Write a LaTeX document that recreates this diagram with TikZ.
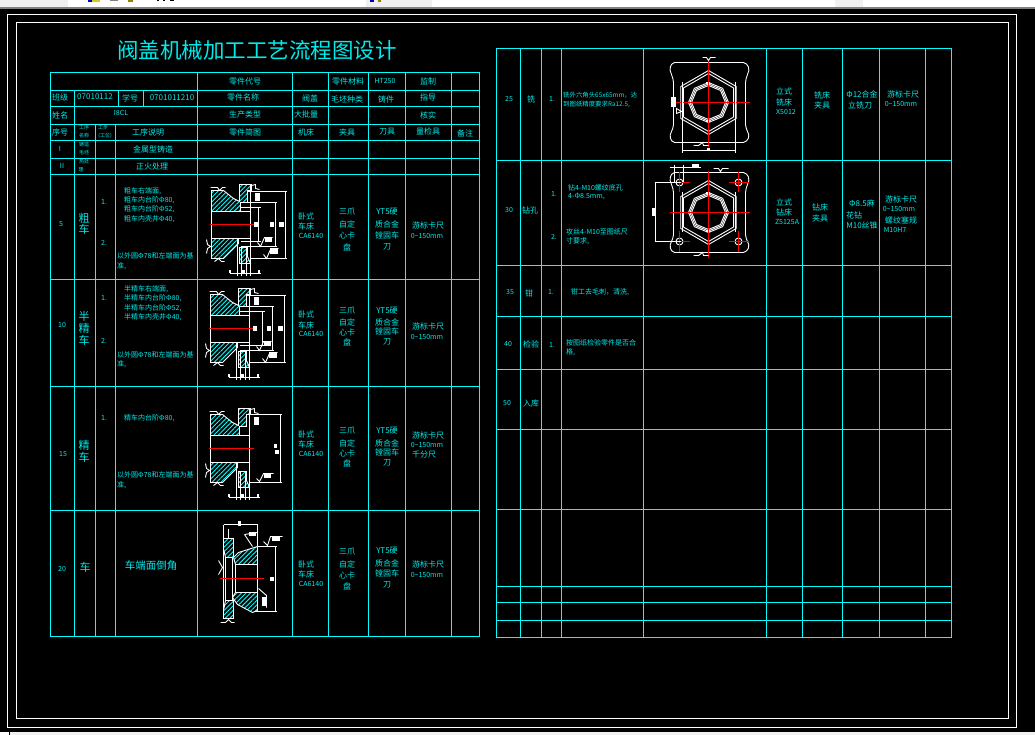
\documentclass[tikz,border=0pt]{standalone}
\usepackage{fontspec}
\setmainfont{Noto Sans CJK SC}
\usetikzlibrary{patterns.meta}
\definecolor{grid}{rgb}{0, 1, 1}
\definecolor{label}{rgb}{0, 0.92, 0.92}
\definecolor{axis}{rgb}{1, 0, 0}
\definecolor{chrome}{rgb}{0.94, 0.94, 0.94}
\tikzset{
  pixel/.style={xshift=0.5pt, yshift=-0.5pt},
  gridline/.style={pixel, draw=grid, line width=1pt},
  frameline/.style={pixel, draw=white, line width=1pt},
  partline/.style={pixel, draw=white, line width=0.9pt},
  hatched/.style={partline, pattern={Lines[angle=45, distance=3.2pt, line width=0.9pt]}, pattern color=grid},
  centerline/.style={pixel, draw=axis, line width=1pt},
  txt/.style={text=label, inner sep=0pt, font=\fontsize{7}{8}\selectfont},
  narrow/.style={txt, font=\fontsize{6.4}{8}\selectfont},
  head/.style={txt, font=\fontsize{8}{9}\selectfont},
  big/.style={txt, font=\fontsize{11}{12}\selectfont},
  tiny/.style={txt, font=\fontsize{5}{6}\selectfont},
  left/.style={anchor=west}
}
% flange section, hub on the left
\newcommand{\flangebody}[1]{
\begin{scope}[shift={#1}]
\draw [hatched] (211, 190) -- (223, 190) -- (233, 198) -- (239, 201) -- (239, 184) -- (251, 184) -- (251, 190) -- (247, 190) -- (247, 202) -- (240, 202) -- (240, 211) -- (211, 211) -- cycle;
\draw [hatched] (211, 238) -- (238, 238) -- (238, 243) -- (223, 258) -- (211, 258) -- cycle;
\draw [hatched] (239, 247) -- (247, 247) -- (247, 256) -- (250, 263) -- (239, 263) -- cycle;
\draw [partline] (211, 211) -- (211, 238);
\draw [partline] (211, 211) -- (250, 211);
\draw [partline] (211, 238) -- (250, 238);
\draw [partline] (250, 184) -- (250, 263);
\draw [partline] (210, 187) -- (217, 187) -- (219, 190) -- (222, 187) -- (225, 187);
\draw [partline] (214, 261) -- (218, 258) -- (221, 261) -- (224, 261);
\draw [partline] (206, 239) -- (207, 244) -- (210, 246) -- (207, 248) -- (206, 253);
\draw [partline] (251, 185) -- (255, 184) -- (255, 188) -- (259, 189);
\draw [partline] (237, 238) -- (237, 275);
\draw [partline] (241, 247) -- (241, 275);
\draw [partline] (246, 247) -- (246, 275);
\draw [partline] (250, 263) -- (250, 275);
\draw [partline] (229, 273) -- (260, 273);
\fill [white] (229, 270) rectangle +(2, 3);
\fill [white] (258, 270) rectangle +(2, 3);
\fill [white] (242, 270) rectangle +(3, 3);
\fill [white] (255, 193) rectangle +(5, 8);
\draw [centerline] (209, 224) -- (254, 224);
\end{scope}
}
\newcommand{\flangedims}[3]{
\begin{scope}[shift={#1}]
\draw [partline] (247, 191) -- (286, 191);
\draw [partline] (250, 258) -- (286, 258);
\draw [partline] (285, 191) -- (285, 258);
\draw [partline] (240, 202) -- (#2 + 1, 202);
\draw [partline] (240, 246) -- (#2 + 1, 246);
\draw [partline] (#2, 202) -- (#2, 246);
\draw [partline] (240, 207) -- (#3 + 2, 207);
\draw [partline] (240, 241) -- (#3 + 2, 241);
\draw [partline] (#3, 207) -- (#3, 241);
\fill [white] (254, 222) rectangle +(4, 5);
\fill [white] (#2 - 5, 222) rectangle +(4, 5);
\fill [white] (279, 222) rectangle +(5, 5);
\draw [partline] (257, 242) -- (260, 246) -- (264, 237) -- (272, 237);
\fill [white] (265, 238) rectangle +(7, 4);
\draw [partline] (263, 254) -- (266, 258) -- (270, 249) -- (278, 248);
\fill [white] (270, 248) rectangle +(8, 6);
\end{scope}
}
% hexagon head seen from the end, centre at (0, 0)
\newcommand{\hexview}[1]{
\begin{scope}[shift={#1}]
\draw [partline, rounded corners=2pt] (-36, -40) -- (-39, -34) -- (-35, -22) -- (-35, 24) -- (-39, 34) -- (-36, 40) -- (37, 40) -- (41, 34) -- (37, 24) -- (37, -22) -- (41, -34) -- (37, -40) -- cycle;
\draw [partline] (90:32) -- (30:32) -- (-30:32) -- (-90:32) -- (-150:32) -- (150:32) -- cycle;
\draw [partline] (90:29) -- (30:29) -- (-30:29) -- (-90:29) -- (-150:29) -- (150:29) -- cycle;
\draw [partline] (0:20) -- (45:20) -- (90:20) -- (135:20) -- (180:20) -- (225:20) -- (270:20) -- (315:20) -- cycle;
\draw [partline] (0:18.5) -- (45:18.5) -- (90:18.5) -- (135:18.5) -- (180:18.5) -- (225:18.5) -- (270:18.5) -- (315:18.5) -- cycle;
\draw [partline] (0:17) -- (45:17) -- (90:17) -- (135:17) -- (180:17) -- (225:17) -- (270:17) -- (315:17) -- cycle;
\fill [white] (-2, -20) rectangle +(4, 2);
\fill [white] (-2, 18) rectangle +(4, 2);
\draw [partline] (-26, -20) -- (-26, 20);
\draw [partline] (27, -20) -- (27, 20);
\end{scope}
}

\begin{document}
\begin{tikzpicture}[x=1pt, y=-1pt]
\useasboundingbox (0, 0) rectangle (1035, 735);
\fill [black] (0, 0) rectangle (1035, 735);
% window bars
\fill [chrome] (0, 0) rectangle (1035, 7);
\fill [gray] (0, 7) rectangle (1035, 9.5);
\fill [white] (68, 0) rectangle (366, 7);
\fill [white] (432, 0) rectangle (835, 7);
\fill [white] (863, 0) rectangle (1035, 7);
\fill [blue!70!black] (88, 0) rectangle +(4, 2);
\fill [yellow!80!black] (92, 0) rectangle +(8, 2);
\fill [gray] (110, 0) rectangle +(8, 1.5);
\fill [olive] (128, 0) rectangle +(5, 2);
\fill [black] (157, 0) rectangle +(2, 1);
\fill [black] (163, 0) rectangle +(2, 1);
\fill [black] (170, 0) rectangle +(4, 1);
\fill [blue!70!black] (370, 0) rectangle +(4, 2);
\fill [olive] (378, 0) rectangle +(3, 2);
\fill [chrome] (0, 732) rectangle (1035, 735);
\fill [white] (0, 732) rectangle (9, 735);
\draw [black] (9, 732) -- (9, 735);
% drawing frames
\draw [frameline] (7, 14) rectangle (1016, 727);
\draw [frameline] (16, 22) rectangle (1008, 718);
\node [txt, font=\fontsize{21.5}{23}\selectfont] (title) at (257, 50) {阀盖机械加工工艺流程图设计};
% left table
\draw [gridline] (50, 72) rectangle (479, 636);
\draw [gridline] (50, 90) -- (479, 90);
\draw [gridline] (50, 106) -- (479, 106);
\draw [gridline] (50, 124) -- (479, 124);
\draw [gridline] (50, 140) -- (479, 140);
\draw [gridline] (50, 158) -- (479, 158);
\draw [gridline] (50, 174) -- (479, 174);
\draw [gridline] (50, 279) -- (479, 279);
\draw [gridline] (50, 386) -- (479, 386);
\draw [gridline] (50, 510) -- (479, 510);
\draw [gridline] (74, 90) -- (74, 636);
\draw [gridline] (95, 124) -- (95, 636);
\draw [gridline] (115, 124) -- (115, 636);
\draw [gridline] (118, 90) -- (118, 106);
\draw [gridline] (143, 90) -- (143, 106);
\draw [gridline] (197, 72) -- (197, 636);
\draw [gridline] (292, 72) -- (292, 636);
\draw [gridline] (328, 72) -- (328, 636);
\draw [gridline] (368, 72) -- (368, 636);
\draw [gridline] (405, 72) -- (405, 636);
\draw [gridline] (451, 72) -- (451, 636);
% left table, heading
\node [head] (partcode) at (245, 82) {零件代号};
\node [head] (material) at (348, 81) {零件材料};
\node [txt] (ht) at (385, 81) {HT250};
\node [head] (monitor) at (428, 81) {监制};
\node [head] (class) at (60, 97) {班级};
\node [head] (classno) at (95, 97) {07010112};
\node [head] (stu) at (130, 98) {学号};
\node [head] (stuno) at (172, 98) {0701011210};
\node [head] (partname) at (243, 97) {零件名称};
\node [head] (valve) at (310, 98) {阀盖};
\node [head] (blank) at (347, 99) {毛坯种类};
\node [head] (cast) at (386, 99) {铸件};
\node [head] (guide) at (428, 97) {指导};
\node [head] (name) at (60, 115) {姓名};
\node [txt] (who) at (121, 113) {I8CL};
\node [head] (prodtype) at (245, 114) {生产类型};
\node [head] (mass) at (306, 114) {大批量};
\node [head] (check) at (428, 115) {核实};
\node [head] (seq) at (60, 132) {序号};
\node [tiny] (opa) at (84, 128) {工序};
\node [tiny] (opb) at (84, 136) {名称};
\node [tiny] (stpa) at (103, 128) {工步};
\node [tiny] (stpb) at (105, 136) {(工位)};
\node [head] (opdesc) at (148, 132) {工序说明};
\node [head] (sketch) at (245, 132) {零件简图};
\node [head] (lathe) at (306, 132) {机床};
\node [head] (fix) at (347, 132) {夹具};
\node [head] (tool) at (387, 132) {刀具};
\node [head] (gauge) at (428, 131) {量检具};
\node [head] (note) at (465, 133) {备注};
\node [txt] (ri) at (60, 149) {I};
\node [tiny] (castta) at (84, 145) {铸造};
\node [tiny] (casttb) at (84, 153) {毛坯};
\node [head] (castd) at (153, 149) {金属型铸造};
\node [txt] (rii) at (62, 166) {II};
\node [tiny] (heata) at (84, 162) {热处};
\node [tiny] (heatb) at (81, 170) {理};
\node [head] (heatd) at (152, 166) {正火处理};
% operation 5
\node [txt] (a5) at (61, 224) {5};
\node [big] (a5na) at (84, 218) {粗};
\node [big] (a5nb) at (84, 229) {车};
\node [txt] (a5s1) at (104, 202) {1.};
\node [txt] (a5s2) at (104, 243) {2.};
\node [txt, left] (a5t1) at (124, 191) {粗车右端面,};
\node [txt, left] (a5t2) at (124, 200) {粗车内台阶Φ80,};
\node [txt, left] (a5t3) at (124, 209.5) {粗车内台阶Φ52,};
\node [txt, left] (a5t4) at (124, 219) {粗车内壳井Φ40,};
\node [txt, left] (a5t5) at (117, 256) {以外圆Φ78和左端面为基};
\node [txt, left] (a5t6) at (117, 266) {准,};
\node [head] (a5ma) at (306, 216) {卧式};
\node [head] (a5mb) at (306, 226) {车床};
\node [txt] (a5mc) at (311, 236) {CA6140};
\node [head] (a5fa) at (347, 212) {三爪};
\node [head] (a5fb) at (347, 224) {自定};
\node [head] (a5fc) at (347, 235) {心卡};
\node [head] (a5fd) at (347, 247) {盘};
\node [head] (a5ka) at (387, 212) {YT5硬};
\node [head] (a5kb) at (387, 224) {质合金};
\node [head] (a5kc) at (387, 235) {镗固车};
\node [head] (a5kd) at (387, 247) {刀};
\node [head] (a5ga) at (428, 225) {游标卡尺};
\node [txt] (a5gb) at (427, 236) {0\textasciitilde150mm};
\flangebody{(0, 0)}
\flangedims{(0, 0)}{275}{258}
% operation 10
\node [txt] (a10) at (62, 325) {10};
\node [big] (a10na) at (84, 316) {半};
\node [big] (a10nb) at (84, 328) {精};
\node [big] (a10nc) at (84, 340) {车};
\node [txt] (a10s1) at (104, 298) {1.};
\node [txt] (a10s2) at (104, 341) {2.};
\node [txt, left] (a10t1) at (124, 289) {半精车右端面,};
\node [txt, left] (a10t2) at (124, 298) {半精车内台阶Φ80,};
\node [txt, left] (a10t3) at (124, 308) {半精车内台阶Φ52,};
\node [txt, left] (a10t4) at (124, 317) {半精车内壳井Φ40,};
\node [txt, left] (a10t5) at (117, 355) {以外圆Φ78和左端面为基};
\node [txt, left] (a10t6) at (117, 364) {准,};
\node [head] (a10ma) at (306, 314) {卧式};
\node [head] (a10mb) at (306, 325) {车床};
\node [txt] (a10mc) at (311, 334) {CA6140};
\node [head] (a10fa) at (347, 311) {三爪};
\node [head] (a10fb) at (347, 322) {自定};
\node [head] (a10fc) at (347, 332) {心卡};
\node [head] (a10fd) at (347, 342) {盘};
\node [head] (a10ka) at (387, 311) {YT5硬};
\node [head] (a10kb) at (387, 322) {质合金};
\node [head] (a10kc) at (387, 331) {镗固车};
\node [head] (a10kd) at (387, 342) {刀};
\node [head] (a10ga) at (428, 326) {游标卡尺};
\node [txt] (a10gb) at (427, 337) {0\textasciitilde150mm};
\flangebody{(-1, 104)}
\flangedims{(-1, 104)}{273}{263}
% operation 15
\node [txt] (a15) at (63, 454) {15};
\node [big] (a15na) at (84, 445) {精};
\node [big] (a15nb) at (84, 457) {车};
\node [txt] (a15s1) at (104, 418) {1.};
\node [txt, left] (a15t1) at (124, 418) {精车内台阶Φ80,};
\node [txt, left] (a15t5) at (117, 475) {以外圆Φ78和左端面为基};
\node [txt, left] (a15t6) at (117, 485) {准,};
\node [head] (a15ma) at (306, 434) {卧式};
\node [head] (a15mb) at (306, 444) {车床};
\node [txt] (a15mc) at (311, 454) {CA6140};
\node [head] (a15fa) at (347, 431) {三爪};
\node [head] (a15fb) at (347, 443) {自定};
\node [head] (a15fc) at (347, 453) {心卡};
\node [head] (a15fd) at (347, 463) {盘};
\node [head] (a15ka) at (387, 431) {YT5硬};
\node [head] (a15kb) at (387, 443) {质合金};
\node [head] (a15kc) at (387, 452) {镗固车};
\node [head] (a15kd) at (387, 463) {刀};
\node [head] (a15ga) at (428, 435) {游标卡尺};
\node [txt] (a15gb) at (427, 445) {0\textasciitilde150mm};
\node [head] (a15gc) at (424, 455) {千分尺};
\flangebody{(-1, 224)}
\draw [partline] (248, 414) -- (281, 414);
\draw [partline] (249, 482) -- (281, 482);
\draw [partline] (280, 414) -- (280, 482);
\fill [white] (274, 444) rectangle +(3, 4);
\fill [white] (275, 450) rectangle +(4, 4);
\draw [partline] (256, 478) -- (259, 481) -- (263, 473) -- (273, 473);
\fill [white] (264, 474) rectangle +(7, 4);
% operation 20
\node [txt] (a20) at (62, 569) {20};
\node [big] (a20n) at (85, 567) {车};
\node [txt, font=\fontsize{10.5}{12}\selectfont] (a20d) at (151, 566) {车端面倒角};
\node [head] (a20ma) at (306, 564) {卧式};
\node [head] (a20mb) at (306, 574) {车床};
\node [txt] (a20mc) at (311, 584) {CA6140};
\node [head] (a20fa) at (347, 552) {三爪};
\node [head] (a20fb) at (347, 564) {自定};
\node [head] (a20fc) at (347, 575) {心卡};
\node [head] (a20fd) at (347, 586) {盘};
\node [head] (a20ka) at (387, 551) {YT5硬};
\node [head] (a20kb) at (387, 563) {质合金};
\node [head] (a20kc) at (387, 573) {镗固车};
\node [head] (a20kd) at (387, 585) {刀};
\node [head] (a20ga) at (428, 564) {游标卡尺};
\node [txt] (a20gb) at (427, 575) {0\textasciitilde150mm};
\draw [hatched] (223, 538) -- (233, 538) -- (233, 557) -- (225, 557) -- (223, 548) -- cycle;
\draw [hatched] (223, 610) -- (225, 600) -- (233, 600) -- (233, 618) -- (223, 618) -- cycle;
\draw [hatched] (233, 557) -- (238, 552) -- (257, 546) -- (257, 564) -- (235, 564) -- cycle;
\draw [hatched] (232, 597) -- (235, 592) -- (257, 592) -- (257, 610) -- (252, 612) -- (237, 604) -- cycle;
\draw [partline] (223, 524) -- (223, 612);
\draw [partline] (225, 557) rectangle (232, 600);
\draw [partline] (235, 564) -- (235, 592);
\draw [partline] (257, 524) -- (257, 611);
\draw [partline] (223, 524) -- (257, 524);
\fill [white] (238, 521) rectangle +(3, 5);
\draw [partline] (228, 528) -- (228, 538);
\draw [partline] (257, 546) -- (276, 546);
\draw [partline] (253, 611) -- (276, 611);
\draw [partline] (275, 546) -- (275, 611);
\fill [white] (270, 577) rectangle +(4, 4);
\draw [centerline] (219, 578) -- (263, 578);
\draw [partline] (218, 560) -- (222, 567) -- (218, 574);
\draw [partline] (220, 622) -- (225, 622) -- (228, 619) -- (231, 622) -- (234, 622);
\draw [partline] (244, 534) -- (252, 546);
\draw [partline] (244, 534) -- (257, 532);
\fill [white] (249, 532) rectangle +(7, 4);
\draw [partline] (263, 541) -- (267, 545) -- (270, 536) -- (282, 536);
\fill [white] (272, 537) rectangle +(8, 4);
\draw [partline] (258, 588) -- (266, 595) -- (266, 607);
\fill [white] (262, 597) rectangle +(4, 9);
% right table
\draw [gridline] (496, 48) rectangle (951, 637);
\draw [gridline] (496, 160) -- (951, 160);
\draw [gridline] (496, 265) -- (951, 265);
\draw [gridline] (496, 316) -- (951, 316);
\draw [gridline] (496, 369) -- (951, 369);
\draw [gridline] (496, 429) -- (951, 429);
\draw [gridline] (496, 509) -- (951, 509);
\draw [gridline] (496, 586) -- (951, 586);
\draw [gridline] (496, 602) -- (951, 602);
\draw [gridline] (496, 620) -- (951, 620);
\draw [gridline] (520, 48) -- (520, 637);
\draw [gridline] (541, 48) -- (541, 637);
\draw [gridline] (561, 48) -- (561, 637);
\draw [gridline] (643, 48) -- (643, 637);
\draw [gridline] (766, 48) -- (766, 637);
\draw [gridline] (802, 48) -- (802, 637);
\draw [gridline] (842, 48) -- (842, 637);
\draw [gridline] (879, 48) -- (879, 637);
\draw [gridline] (925, 48) -- (925, 637);
% operation 25
\node [txt] (b25) at (509, 99) {25};
\node [head] (b25n) at (531, 99) {铣};
\node [txt] (b25s) at (552, 99) {1.};
\node [narrow, left] (b25ta) at (563, 95) {铣外六角头65x65mm，达};
\node [narrow, left] (b25tb) at (563, 104) {到图纸精度要求Ra12.5,};
\node [head] (b25ma) at (784, 91) {立式};
\node [head] (b25mb) at (784, 102) {铣床};
\node [txt] (b25mc) at (786, 112) {X5012};
\node [head] (b25fa) at (822, 95) {铣床};
\node [head] (b25fb) at (822, 105) {夹具};
\node [head] (b25ka) at (862, 94) {Φ12合金};
\node [head] (b25kb) at (860, 105) {立铣刀};
\node [head] (b25ga) at (903, 94) {游标卡尺};
\node [txt] (b25gb) at (901, 104) {0\textasciitilde150mm};
\hexview{(708, 102)}
\draw [centerline] (670, 102) -- (749, 102);
\draw [centerline] (708, 60) -- (708, 147);
\draw [partline] (682, 84) -- (682, 153);
\draw [partline] (735, 84) -- (735, 153);
\draw [partline] (682, 150) -- (735, 150);
\fill [white] (707, 148) rectangle +(3, 3);
\fill [white] (671, 97) rectangle +(5, 10);
\draw [partline] (676, 108) -- (676, 113) -- (681, 111) -- cycle;
\draw [partline] (702, 57) -- (706, 57) -- (708, 60) -- (710, 57) -- (715, 57);
\draw [partline] (693, 145) -- (698, 145) -- (702, 142) -- (703, 145) -- (708, 145);
% operation 30
\node [txt] (b30) at (509, 210) {30};
\node [head] (b30n) at (530, 210) {钻孔};
\node [txt] (b30sa) at (554, 194) {1.};
\node [txt] (b30sb) at (554, 237) {2.};
\node [txt, left] (b30ta) at (568, 188) {钻4-M10螺纹底孔};
\node [txt, left] (b30tb) at (568, 197) {4-Φ8.5mm,};
\node [txt, left] (b30tc) at (566, 232) {攻丝4-M10至图纸尺};
\node [txt, left] (b30td) at (566, 241) {寸要求,};
\node [head] (b30ma) at (784, 202) {立式};
\node [head] (b30mb) at (784, 212) {钻床};
\node [txt] (b30mc) at (787, 222) {Z5125A};
\node [head] (b30fa) at (820, 207) {钻床};
\node [head] (b30fb) at (820, 218) {夹具};
\node [head] (b30ka) at (862, 203) {Φ8.5麻};
\node [head] (b30kb) at (854, 215) {花钻};
\node [head] (b30kc) at (862, 225) {M10丝锥};
\node [head] (b30ga) at (901, 199) {游标卡尺};
\node [txt] (b30gb) at (899, 209) {0\textasciitilde150mm};
\node [head] (b30gc) at (901, 220) {螺纹塞规};
\node [txt] (b30gd) at (895, 230) {M10H7};
\hexview{(708, 212)}
\draw [centerline] (669, 212) -- (749, 212);
\draw [centerline] (708, 171) -- (708, 257);
\draw [partline] (679, 182) circle (3.5);
\draw [partline] (738, 182) circle (3.5);
\draw [partline] (679, 241) circle (3.5);
\draw [partline] (738, 241) circle (3.5);
\draw [centerline] (669, 182) -- (689, 182);
\draw [centerline] (679, 172) -- (679, 192);
\draw [centerline] (728, 182) -- (748, 182);
\draw [centerline] (738, 172) -- (738, 192);
\draw [centerline] (669, 241) -- (689, 241);
\draw [centerline] (679, 231) -- (679, 251);
\draw [centerline] (728, 241) -- (748, 241);
\draw [centerline] (738, 231) -- (738, 251);
\draw [partline] (654, 182) -- (680, 182);
\draw [partline] (654, 241) -- (680, 241);
\draw [partline] (655, 182) -- (655, 241);
\fill [white] (652, 208) rectangle +(4, 8);
\draw [partline] (669, 167) -- (700, 167);
\fill [white] (692, 164) rectangle +(7, 3);
\draw [partline] (674, 165) -- (674, 182);
\draw [partline] (683, 165) -- (683, 182);
\draw [partline] (713, 168) -- (718, 168) -- (720, 171) -- (722, 168) -- (728, 168);
\draw [partline] (693, 255) -- (698, 255) -- (702, 252) -- (703, 255) -- (708, 255);
% operations 35, 40, 50
\node [txt] (b35) at (510, 292) {35};
\node [head] (b35n) at (529, 293) {钳};
\node [txt] (b35s) at (551, 292) {1.};
\node [txt] (b35t) at (600, 292) {钳工去毛刺，清洗,};
\node [txt] (b40) at (508, 344) {40};
\node [head] (b40n) at (531, 344) {检验};
\node [txt] (b40s) at (552, 345) {1.};
\node [txt, left] (b40ta) at (566, 343) {按图纸检验零件是否合};
\node [txt, left] (b40tb) at (566, 352) {格,};
\node [txt] (b50) at (507, 403) {50};
\node [head] (b50n) at (531, 403) {入库};
\end{tikzpicture}
\end{document}
